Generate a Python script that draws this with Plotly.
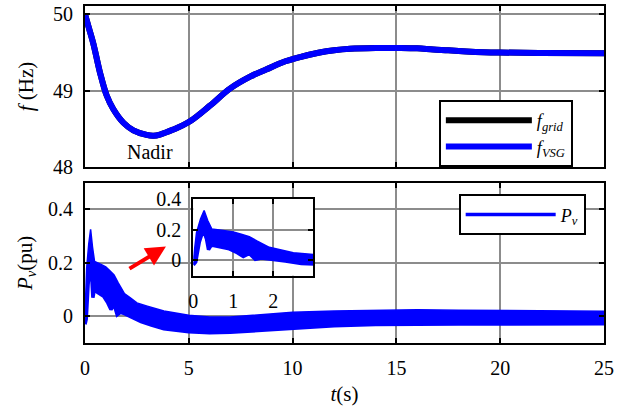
import plotly.graph_objects as go

# ---- data ----
t_f = [0, 0.2, 0.4, 0.72, 1.04, 1.36, 1.85, 2.33, 2.97, 3.3, 3.61, 4.25, 5.06, 6.0, 7.0,
       8.0, 8.75, 9.5, 10.36, 11.3, 12.0, 12.77, 14.0, 15.17, 16.0, 16.78, 17.5, 18.38,
       19.2, 20.0, 22.0, 25.0]
f_grid = [50.0, 49.81, 49.62, 49.24, 48.94, 48.76, 48.58, 48.48, 48.42, 48.41, 48.425,
          48.49, 48.60, 48.80, 49.03, 49.19, 49.28, 49.37, 49.44, 49.50, 49.53, 49.55,
          49.56, 49.56, 49.555, 49.54, 49.53, 49.515, 49.505, 49.50, 49.495, 49.49]
f_vsg = list(f_grid)

t_up = [0.0, 0.08, 0.18, 0.27, 0.36, 0.46, 0.75, 1.0, 1.2, 1.4, 1.6, 1.9, 2.2, 2.5, 3.0,
        3.8, 5.0, 6.0, 7.0, 8.0, 9.0, 10.0, 12.0, 14.0, 16.0, 18.0, 20.0, 22.0, 25.0]
pv_up = [0.0, 0.18, 0.27, 0.325, 0.26, 0.205, 0.195, 0.185, 0.17, 0.155, 0.125, 0.085,
         0.068, 0.05, 0.038, 0.02, 0.004, -0.003, -0.003, 0.003, 0.009, 0.015, 0.02, 0.023,
         0.024, 0.023, 0.022, 0.02, 0.019]
t_lo = [0.0, 0.06, 0.15, 0.25, 0.33, 0.38, 0.45, 0.6, 0.9, 1.1, 1.25, 1.4, 1.55, 1.7, 1.9,
        2.3, 2.7, 3.2, 3.8, 5.0, 6.0, 7.0, 8.0, 9.0, 10.0, 12.0, 14.0, 16.0, 18.0, 20.0,
        22.0, 25.0]
pv_lo = [-0.03, -0.01, 0.12, 0.2, 0.14, 0.07, 0.1, 0.09, 0.075, 0.05, 0.025, 0.045, 0.006,
         0.015, 0.01, -0.005, -0.02, -0.033, -0.047, -0.058, -0.062, -0.06, -0.055, -0.049,
         -0.042, -0.035, -0.031, -0.029, -0.029, -0.029, -0.028, -0.028]

x_ticks = [0, 5, 10, 15, 20, 25]
f_ticks = [48, 49, 50]
pv_ticks = [0, 0.2, 0.4]
inset_xticks = [0, 1, 2]
inset_yticks = [0, 0.2, 0.4]

BLUE = "#0000ff"
FONT = "Liberation Serif, Times New Roman, serif"
GRID = "#8c8c8c"

fig = go.Figure()

# top panel
fig.add_trace(go.Scatter(x=t_f, y=f_grid, mode="lines", line=dict(color="black", width=6, shape="spline"),
                         name="<i>f</i><sub><i>grid</i></sub>", xaxis="x", yaxis="y", legend="legend"))
fig.add_trace(go.Scatter(x=t_f, y=f_vsg, mode="lines", line=dict(color=BLUE, width=6, shape="spline"),
                         name="<i>f</i><sub><i>VSG</i></sub>", xaxis="x", yaxis="y", legend="legend"))

# bottom panel (band between envelopes) + inset
for xa, ya, show in [("x2", "y2", True), ("x3", "y3", False)]:
    fig.add_trace(go.Scatter(x=t_lo, y=pv_lo, mode="lines", line=dict(color=BLUE, width=3.5),
                             name="<i>P</i><sub><i>v</i></sub>", showlegend=show,
                             xaxis=xa, yaxis=ya, legend="legend2"))
    fig.add_trace(go.Scatter(x=t_up, y=pv_up, mode="lines", line=dict(color=BLUE, width=1.5),
                             fill="tonexty", fillcolor=BLUE, showlegend=False,
                             xaxis=xa, yaxis=ya))

axis_common = dict(showline=True, linecolor="black", linewidth=2, mirror="ticks",
                   ticks="inside", ticklen=5, tickwidth=2, tickcolor="black",
                   showgrid=True, gridcolor=GRID, gridwidth=1.5, zeroline=False,
                   automargin=False,
                   tickfont=dict(family=FONT, size=20, color="black"))

top_dom = [0.5223, 1.0]
bot_dom = [0.0, 0.4757]

fig.update_layout(
    width=631, height=412,
    margin=dict(l=85, r=27, t=6, b=69),
    paper_bgcolor="white", plot_bgcolor="white",
    font=dict(family=FONT, size=20, color="black"),
    xaxis=dict(domain=[0, 1], anchor="y", range=[0, 25], tickvals=x_ticks,
               showticklabels=False, **axis_common),
    yaxis=dict(domain=top_dom, anchor="x", range=[48, 50.11], tickvals=f_ticks,
               ticklabelstandoff=6,
               title=dict(text="<i>f</i> (Hz)", standoff=14, font=dict(family=FONT, size=21)),
               **axis_common),
    xaxis2=dict(domain=[0, 1], anchor="y2", range=[0, 25], tickvals=x_ticks,
                ticklabelstandoff=6,
                title=dict(text="<i>t</i>(s)", standoff=8, font=dict(family=FONT, size=21)),
                **axis_common),
    yaxis2=dict(domain=bot_dom, anchor="x2", range=[-0.1, 0.5], tickvals=pv_ticks,
                ticktext=["0", "0.2", "0.4"], ticklabelstandoff=6,
                title=dict(text="<i>P</i><sub><i>v</i></sub>(pu)", standoff=10,
                           font=dict(family=FONT, size=21)),
                **axis_common),
    xaxis3=dict(domain=[0.2087, 0.4399], anchor="y3", range=[0, 3], tickvals=inset_xticks,
                ticklabelstandoff=6, **axis_common),
    yaxis3=dict(domain=[0.1997, 0.4273], anchor="x3", range=[-0.1, 0.4], tickvals=inset_yticks,
                ticktext=["0", "0.2", "0.4"], ticklabelstandoff=6, **axis_common),
    legend=dict(x=0.940, y=0.7211, xanchor="right", yanchor="top", traceorder="normal",
                bgcolor="white", bordercolor="black", borderwidth=2,
                itemwidth=86, font=dict(family=FONT, size=18), tracegroupgap=0),
    legend2=dict(x=0.9647, y=0.4412, xanchor="right", yanchor="top", traceorder="normal",
                 bgcolor="white", bordercolor="black", borderwidth=2,
                 itemwidth=90, font=dict(family=FONT, size=18)),
    showlegend=True,
)

fig.add_annotation(x=3.13, y=48.2, xref="x", yref="y", text="Nadir", showarrow=False,
                   font=dict(family=FONT, size=20, color="black"))
fig.add_annotation(x=3.9, y=0.261, xref="x2", yref="y2", ax=2.07, ay=0.175,
                   axref="x2", ayref="y2", text="", showarrow=True,
                   arrowhead=2, arrowsize=1, arrowwidth=4, arrowcolor="red")

fig.write_html("out.html", config={"displayModeBar": False},
               post_script="document.body.style.margin='0';")
